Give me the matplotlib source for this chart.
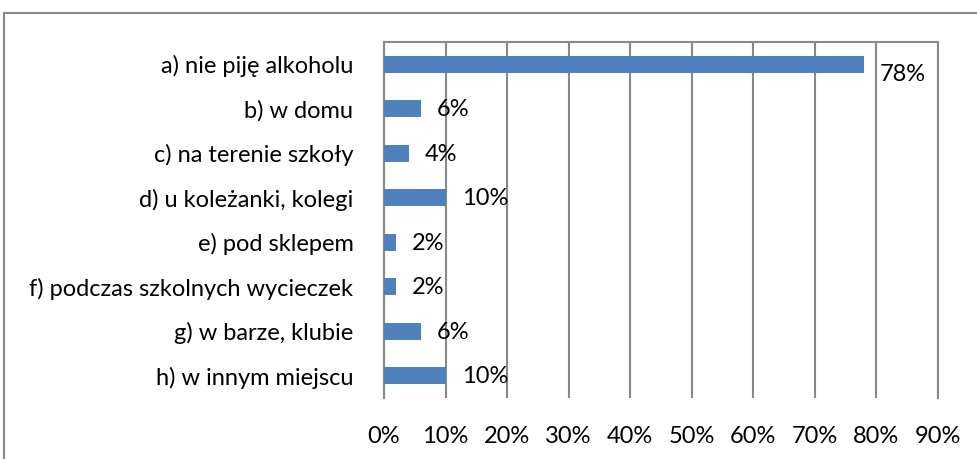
import matplotlib.pyplot as plt
from matplotlib.lines import Line2D

categories = ['a) nie piję alkoholu', 'b) w domu', 'c) na terenie szkoły',
              'd) u koleżanki, kolegi', 'e) pod sklepem',
              'f) podczas szkolnych wycieczek', 'g) w barze, klubie',
              'h) w innym miejscu']
values = [78, 6, 4, 10, 2, 2, 6, 10]
xticks = [0, 10, 20, 30, 40, 50, 60, 70, 80, 90]

plt.rcParams['font.family'] = ['Lato', 'DejaVu Sans']
FS = 17

fig = plt.figure(figsize=(9.78, 4.59), dpi=100)
ax = fig.add_axes([384 / 978, 1 - 398 / 459, (938 - 384) / 978, (398 - 42) / 459])

pos = list(range(len(categories)))
ax.barh(pos, values, height=0.38, color='#4F81BD', zorder=3)
for y, v in zip(pos, values):
    # the label past the 80% line sits a bit lower, as in the original
    dy = 0.22 if v > 70 else 0.02
    ax.text(v + 2.6, y + dy, '%d%%' % v, ha='left', va='center',
            fontsize=FS, color='black', zorder=4)

ax.set_xlim(0, 90)
ax.set_ylim(len(categories) - 0.5, -0.5)
ax.set_yticks(pos)
ax.set_yticklabels(categories, fontsize=FS)
ax.set_xticks(xticks)
ax.set_xticklabels(['%d%%' % t for t in xticks], fontsize=FS)
ax.tick_params(axis='both', length=0)
ax.tick_params(axis='y', pad=22)
ax.tick_params(axis='x', pad=20)
ax.grid(axis='x', color='#898989', lw=1.5, zorder=0)
for s in ['left', 'top', 'right']:
    ax.spines[s].set_color('#898989')
    ax.spines[s].set_linewidth(1.5)
ax.spines['bottom'].set_visible(False)

# outer chart border (cropped at right/bottom)
fig.add_artist(Line2D([4 / 978, 1], [1 - 13 / 459, 1 - 13 / 459], color='#898989', lw=1.5,
                      transform=fig.transFigure))
fig.add_artist(Line2D([4 / 978, 4 / 978], [0, 1 - 13 / 459], color='#898989', lw=1.5,
                      transform=fig.transFigure))

fig.savefig('out.png', dpi=100)
